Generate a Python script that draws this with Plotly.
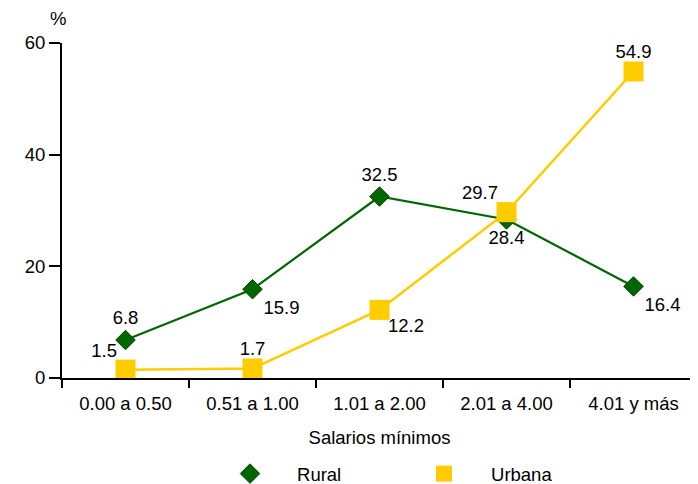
import plotly.graph_objects as go

categories = ["0.00 a 0.50", "0.51 a 1.00", "1.01 a 2.00", "2.01 a 4.00", "4.01 y más"]
rural = [6.8, 15.9, 32.5, 28.4, 16.4]
urbana = [1.5, 1.7, 12.2, 29.7, 54.9]
y_ticks = [0, 20, 40, 60]

rural_pos = ["top center", "bottom right", "top center", "bottom center", "bottom right"]
urbana_pos = ["top left", "top center", "bottom right", "top left", "top center"]

FONT = "Liberation Sans, Arial, sans-serif"
FS = 18.5
GREEN = "#006600"
YELLOW = "#FFCC00"

fig = go.Figure()
# Rural: line + labels (invisible markers keep the label offsets), then visible markers
fig.add_trace(go.Scatter(
    x=categories, y=rural, name="Rural", mode="lines+markers+text", showlegend=False,
    line=dict(color=GREEN, width=2.2),
    marker=dict(symbol="diamond", size=16, color="rgba(0,0,0,0)", line=dict(width=0)),
    text=[f"{v:.1f}" for v in rural], textposition=rural_pos,
    textfont=dict(family=FONT, size=FS, color="#000000"),
    cliponaxis=False, legendgroup="r",
))
fig.add_trace(go.Scatter(
    x=categories, y=rural, name="Rural", mode="markers",
    marker=dict(symbol="diamond", size=15, color=GREEN, line=dict(color="#004400", width=1)),
    cliponaxis=False, legendgroup="r",
))
fig.add_trace(go.Scatter(
    x=categories, y=urbana, name="Urbana", mode="lines+markers+text", showlegend=False,
    line=dict(color=YELLOW, width=2.5),
    marker=dict(symbol="square", size=12, color="rgba(0,0,0,0)", line=dict(width=0)),
    text=[f"{v:.1f}" for v in urbana], textposition=urbana_pos,
    textfont=dict(family=FONT, size=FS, color="#000000"),
    cliponaxis=False, legendgroup="u",
))
fig.add_trace(go.Scatter(
    x=categories, y=urbana, name="Urbana", mode="markers",
    marker=dict(symbol="square", size=20, color=YELLOW, line=dict(width=0)),
    cliponaxis=False, legendgroup="u",
))

fig.update_layout(
    width=698, height=484,
    margin=dict(l=54, r=9, t=35, b=114, autoexpand=False),
    paper_bgcolor="white", plot_bgcolor="white",
    font=dict(family=FONT, size=FS, color="#000000"),
    showlegend=True,
    legend=dict(
        orientation="h", xref="container", yref="container",
        x=0.2794, xanchor="left", y=0.037, yanchor="middle",
        entrywidth=95, entrywidthmode="pixels",
        itemwidth=84,
        font=dict(family=FONT, size=FS, color="#000000"),
        bgcolor="rgba(0,0,0,0)",
    ),
    xaxis=dict(
        type="category", range=[-0.5, 4.5], automargin=False,
        showline=True, linecolor="#000000", linewidth=2,
        ticks="outside", tickson="boundaries", ticklen=8, tickwidth=2, tickcolor="#000000",
        ticklabelstandoff=8,
        showgrid=False, zeroline=False,
        title=dict(text="Salarios mínimos", standoff=18, font=dict(family=FONT, size=FS)),
        tickfont=dict(family=FONT, size=FS),
    ),
    yaxis=dict(
        range=[0, 60], tickvals=y_ticks, automargin=False,
        showline=True, linecolor="#000000", linewidth=2,
        ticks="outside", ticklen=11, tickwidth=2, tickcolor="#000000",
        showgrid=False, zeroline=False,
        tickfont=dict(family=FONT, size=FS),
    ),
    annotations=[dict(
        text="%", xref="paper", yref="paper",
        x=(50 - 54) / 635, y=1 + (35 - 11) / 335,
        xanchor="center", yanchor="middle", showarrow=False,
        font=dict(family=FONT, size=FS, color="#000000"),
    )],
)

fig.write_html("out.html")
